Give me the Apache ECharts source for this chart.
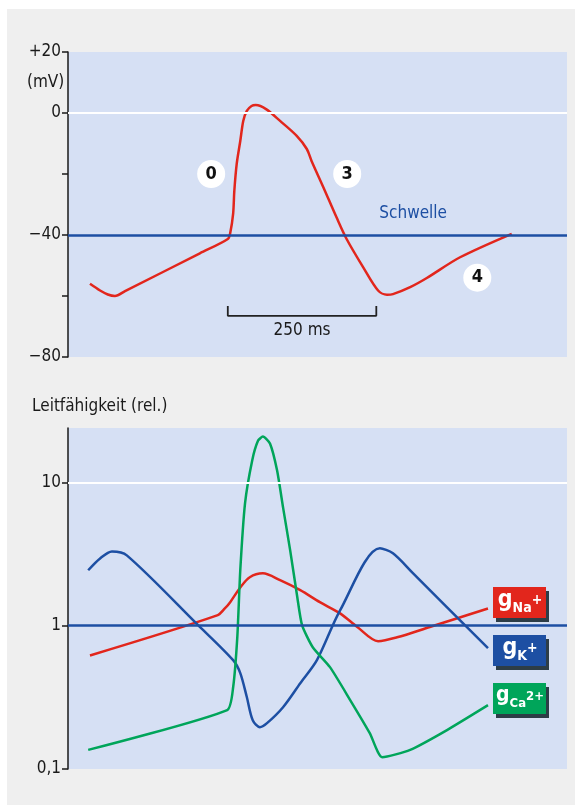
<!DOCTYPE html>
<html>
<head>
<meta charset="utf-8">
<script src="https://cdn.jsdelivr.net/npm/echarts@6/dist/echarts.min.js"></script>
<style>
  html, body { margin: 0; padding: 0; background: #fff; }
  #main { width: 575px; height: 805px; }
</style>
</head>
<body>
<div id="main"></div>
<script>
// Aktionspotential (Zeit in ms, Membranpotential in mV)
var apTime = [37, 54, 67, 79, 96, 222, 269, 273, 278, 280, 284, 290, 295, 301, 309, 316, 334, 357, 385, 402, 410, 430, 452, 469, 497, 522, 537, 547, 576, 604, 660, 747];
var apVolt = [-56, -58.2, -59.5, -60, -58.4, -46, -41.3, -39.4, -33, -25.5, -16.7, -9.2, -2.6, 0.7, 2.3, 2.6, 1.2, -2.6, -7.5, -11.8, -15.7, -24.4, -34.2, -41.3, -50.6, -58.2, -59.6, -59.4, -57.1, -54.1, -47.3, -39.6];
var threshold = -40;
var mvTicks = { '20': '+20', '0': '0', '-40': '\u221240', '-80': '\u221280' };

// Phasen-Markierungen [Text, Zeit, mV]
var phaseLabels = [['0', 241, -20], ['3', 470, -20], ['4', 689, -54]];
// Massstab 250 ms
var scaleStart = 269, scaleLen = 250;

// Leitfaehigkeiten (relativ)
var naTime = [37, 251, 264, 273, 290, 306, 328, 357, 391, 424, 458, 487, 522, 554, 609, 707];
var naVal  = [0.62, 1.18, 1.32, 1.46, 1.85, 2.18, 2.32, 2.08, 1.77, 1.46, 1.22, 0.98, 0.78, 0.83, 0.98, 1.32];
var kTime  = [34, 54, 74, 99, 219, 278, 290, 301, 311, 323, 335, 362, 391, 419, 458, 525, 547, 581, 707];
var kVal   = [2.44, 2.95, 3.3, 3.1, 1.01, 0.575, 0.467, 0.318, 0.219, 0.196, 0.209, 0.27, 0.397, 0.575, 1.28, 3.47, 3.2, 2.32, 0.697];
var caTime = [34, 268, 278, 285, 290, 298, 310, 320, 328, 340, 352, 362, 374, 386, 394, 412, 441, 475, 508, 529, 576, 638, 707];
var caVal  = [0.136, 0.258, 0.372, 0.832, 2.44, 7.14, 14.2, 19.6, 20.9, 18.7, 12.1, 6.7, 3.36, 1.58, 1.01, 0.708, 0.514, 0.303, 0.178, 0.121, 0.136, 0.187, 0.279];
var logTicks = [0.1, 1, 10];
var logLabels = { '0.1': '0,1', '1': '1', '10': '10' };

var RED = '#e2261c', BLUE = '#1d4fa3', GREEN = '#00a55a';
var FONT = "'Liberation Sans Narrow', 'DejaVu Sans Condensed', sans-serif";

function zip(a, b) {
  return a.map(function (v, i) { return [v, b[i]]; });
}

function legendBox(y, color, sub, sup) {
  var small = sub.length + sup.length > 3;
  return {
    type: 'group', left: 493, top: y,
    children: [
      { type: 'rect', shape: { x: 3, y: 4, width: 53, height: 31 }, style: { fill: '#2d3d47' } },
      { type: 'rect', shape: { x: 0, y: 0, width: 53, height: 31 }, style: { fill: color } },
      {
        type: 'text', x: 27, y: 15,
        style: {
          text: '{g|g}{s|' + sub + '}{p|' + sup + '}',
          align: 'center', verticalAlign: 'middle',
          rich: {
            g: { fontSize: small ? 21 : 23, fontWeight: 'bold', fill: '#fff', fontFamily: FONT, padding: [0, 0, 4, 0] },
            s: { fontSize: small ? 13 : 14, fontWeight: 'bold', fill: '#fff', fontFamily: FONT, padding: [12, 0, 0, 0] },
            p: { fontSize: small ? 13 : 14, fontWeight: 'bold', fill: '#fff', fontFamily: FONT, padding: [0, 0, 3, 0] }
          }
        }
      }
    ]
  };
}

var myChart = echarts.init(document.getElementById('main'));

var option = {
  backgroundColor: '#ffffff',
  animation: false,
  textStyle: { fontFamily: FONT },
  grid: [
    { left: 68, right: 8, top: 52, height: 305, show: true, backgroundColor: '#d6e0f4', borderWidth: 0 },
    { left: 68, right: 8, top: 428, height: 341, show: true, backgroundColor: '#d6e0f4', borderWidth: 0 }
  ],
  xAxis: [
    { gridIndex: 0, type: 'value', min: 0, max: 840, show: false },
    { gridIndex: 1, type: 'value', min: 0, max: 840, show: false }
  ],
  yAxis: [
    {
      gridIndex: 0, type: 'value', min: -80, max: 20, interval: 20,
      axisLine: { show: true, lineStyle: { color: '#1a1a1a', width: 1.5 } },
      axisTick: { show: true, inside: false, length: 6, lineStyle: { color: '#1a1a1a', width: 1.5 } },
      splitLine: { show: false },
      axisLabel: {
        color: '#1a1a1a', fontSize: 17, margin: 7, fontFamily: FONT,
        formatter: function (v) { return mvTicks[String(v)] || ''; }
      }
    },
    {
      gridIndex: 1, type: 'log', logBase: 10, min: 0.1, max: 24,
      axisLine: { show: true, lineStyle: { color: '#1a1a1a', width: 1.5 } },
      axisTick: { show: true, inside: false, length: 6, customValues: logTicks, lineStyle: { color: '#1a1a1a', width: 1.5 } },
      splitLine: { show: false },
      axisLabel: {
        color: '#1a1a1a', fontSize: 17, margin: 7, fontFamily: FONT, customValues: logTicks,
        formatter: function (v) {
          var k = String(Math.round(v * 1000) / 1000);
          return logLabels[k] || '';
        }
      }
    }
  ],
  graphic: [
    { type: 'rect', z: -10, shape: { x: 7, y: 9, width: 568, height: 796 }, style: { fill: '#efefef' } },
    { type: 'text', left: 27, top: 74, style: { text: '(mV)', fontSize: 17, fill: '#1a1a1a', fontFamily: FONT } },
    { type: 'text', left: 32, top: 398, style: { text: 'Leitfähigkeit (rel.)', fontSize: 17, fill: '#1a1a1a', fontFamily: FONT } },
    legendBox(587, RED, 'Na', '+'),
    legendBox(635, BLUE, 'K', '+'),
    legendBox(683, GREEN, 'Ca', '2+')
  ],
  series: [
    {
      type: 'line', xAxisIndex: 0, yAxisIndex: 0,
      data: zip(apTime, apVolt),
      smooth: 0.3, showSymbol: false,
      lineStyle: { color: RED, width: 2.5 },
      markLine: {
        silent: true, symbol: 'none', label: { show: false },
        data: [
          { yAxis: 0, lineStyle: { color: '#ffffff', width: 2, type: 'solid' } },
          { yAxis: threshold, lineStyle: { color: BLUE, width: 2.5, type: 'solid' } }
        ]
      },
      z: 3
    },
    {
      // Massstab
      type: 'line', xAxisIndex: 0, yAxisIndex: 0,
      data: [[scaleStart, -63.3], [scaleStart, -66.5], [scaleStart + scaleLen, -66.5], [scaleStart + scaleLen, -63.3]],
      showSymbol: false,
      lineStyle: { color: '#222', width: 1.8 }
    },
    {
      type: 'scatter', xAxisIndex: 0, yAxisIndex: 0,
      data: [
        { value: [scaleStart + scaleLen / 2, -71.5], label: { formatter: '250 ms', color: '#1a1a1a' } },
        { value: [581, -33], label: { formatter: 'Schwelle', color: BLUE } }
      ],
      symbolSize: 0,
      itemStyle: { opacity: 1 },
      label: { show: true, position: 'inside', fontSize: 17, fontFamily: FONT, opacity: 1 }
    },
    {
      type: 'scatter', xAxisIndex: 0, yAxisIndex: 0,
      data: phaseLabels.map(function (p) { return { name: p[0], value: [p[1], p[2]] }; }),
      symbol: 'circle', symbolSize: 28,
      itemStyle: { color: '#ffffff', opacity: 1 },
      label: {
        show: true, position: 'inside', formatter: '{b}',
        color: '#111', fontSize: 18, fontWeight: 'bold', fontFamily: FONT
      },
      z: 5
    },
    {
      type: 'line', xAxisIndex: 1, yAxisIndex: 1,
      data: zip(naTime, naVal),
      smooth: 0.3, showSymbol: false,
      lineStyle: { color: RED, width: 2.5 },
      markLine: {
        silent: true, symbol: 'none', label: { show: false },
        data: [
          { yAxis: 10, lineStyle: { color: '#ffffff', width: 2, type: 'solid' } },
          { yAxis: 1, lineStyle: { color: BLUE, width: 2.5, type: 'solid' } }
        ]
      }
    },
    {
      type: 'line', xAxisIndex: 1, yAxisIndex: 1,
      data: zip(kTime, kVal),
      smooth: 0.3, showSymbol: false,
      lineStyle: { color: BLUE, width: 2.5 }
    },
    {
      type: 'line', xAxisIndex: 1, yAxisIndex: 1,
      data: zip(caTime, caVal),
      smooth: 0.2, showSymbol: false,
      lineStyle: { color: GREEN, width: 2.5 }
    }
  ]
};

myChart.setOption(option);
</script>
</body>
</html>
